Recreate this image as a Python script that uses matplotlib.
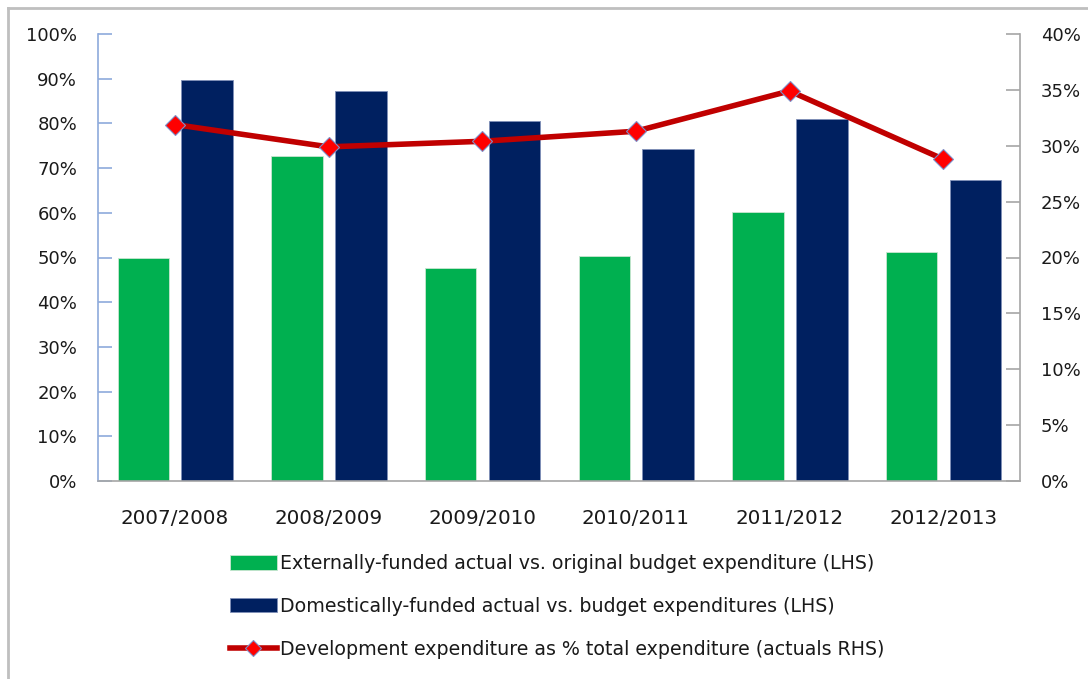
import matplotlib
matplotlib.use("Agg")
import matplotlib.pyplot as plt
import numpy as np
from matplotlib.lines import Line2D
from matplotlib.ticker import FuncFormatter, MultipleLocator

categories = ["2007/2008", "2008/2009", "2009/2010", "2010/2011", "2011/2012", "2012/2013"]
external = [50.0, 72.8, 47.7, 50.4, 60.1, 51.3]
domestic = [89.8, 87.3, 80.5, 74.2, 80.9, 67.3]
development = [31.9, 29.9, 30.4, 31.3, 34.9, 28.8]

labels = [
    "Externally-funded actual vs. original budget expenditure (LHS)",
    "Domestically-funded actual vs. budget expenditures (LHS)",
    "Development expenditure as % total expenditure (actuals RHS)",
]

GREEN = "#00B050"
NAVY = "#002060"
RED_LINE = "#C00000"
RED_MARK = "#FF0000"

fig = plt.figure(figsize=(10.88, 6.79), dpi=100)
ax = fig.add_axes([98/1088, 1-481/679, (1020-98)/1088, (481-34)/679])
ax2 = ax.twinx()

x = np.arange(len(categories))
w = 0.335
b1 = ax.bar(x - 0.205, external, width=w, color=GREEN, edgecolor="#C8E6D0", linewidth=0.6, zorder=2)
b2 = ax.bar(x + 0.21, domestic, width=w, color=NAVY, edgecolor="#8090B8", linewidth=0.6, zorder=2)
l1, = ax2.plot(x, development, color=RED_LINE, lw=4.0, marker="D", markersize=10,
               markerfacecolor=RED_MARK, markeredgecolor="#7F8FC8", markeredgewidth=0.8, zorder=3)

ax.set_xlim(-0.5, len(categories) - 0.5)
ax.set_ylim(0, 100)
ax2.set_ylim(0, 40)
ax.yaxis.set_major_locator(MultipleLocator(10))
ax2.yaxis.set_major_locator(MultipleLocator(5))
pct = FuncFormatter(lambda v, p: f"{v:.0f}%")
ax.yaxis.set_major_formatter(pct)
ax2.yaxis.set_major_formatter(pct)

ax.set_xticks(x)
ax.set_xticklabels(categories, fontsize=14.3, color="#1a1a1a")
ax.tick_params(axis="x", length=0, pad=20)
ax.tick_params(axis="y", direction="in", length=10, width=1.2, color="#8EAADB",
               labelsize=13, labelcolor="#1a1a1a", pad=15)
ax2.tick_params(axis="y", direction="in", length=10, width=1.2, color="#A6A6A6",
                labelsize=13, labelcolor="#1a1a1a", pad=15)

for a in (ax, ax2):
    a.spines["top"].set_visible(False)
ax.spines["left"].set_color("#8EAADB")
ax.spines["left"].set_linewidth(1.2)
ax.spines["bottom"].set_color("#A6A6A6")
ax.spines["bottom"].set_linewidth(1.2)
ax.spines["right"].set_visible(False)
ax2.spines["left"].set_visible(False)
ax2.spines["bottom"].set_visible(False)
ax2.spines["right"].set_color("#A6A6A6")
ax2.spines["right"].set_linewidth(1.2)

handles = [b1, b2, Line2D([], [], color=RED_LINE, lw=4.0, marker="D", markersize=8,
                          markerfacecolor=RED_MARK, markeredgecolor="#7F8FC8", markeredgewidth=0.8)]
leg = fig.legend(handles, labels, loc="upper left", bbox_to_anchor=(230/1088, 1-554/679),
                 frameon=False, fontsize=13.7, handlelength=2.45, handleheight=0.8,
                 handletextpad=0.2, labelspacing=1.25, borderaxespad=0, borderpad=0)
for t in leg.get_texts():
    t.set_color("#1a1a1a")

# outer chart border
fig.add_artist(Line2D([8/1088, 1], [1-8/679, 1-8/679], transform=fig.transFigure, color="#BFBFBF", lw=2))
fig.add_artist(Line2D([8/1088, 8/1088], [0, 1-8/679], transform=fig.transFigure, color="#BFBFBF", lw=2))

fig.savefig("out.png", dpi=100)
